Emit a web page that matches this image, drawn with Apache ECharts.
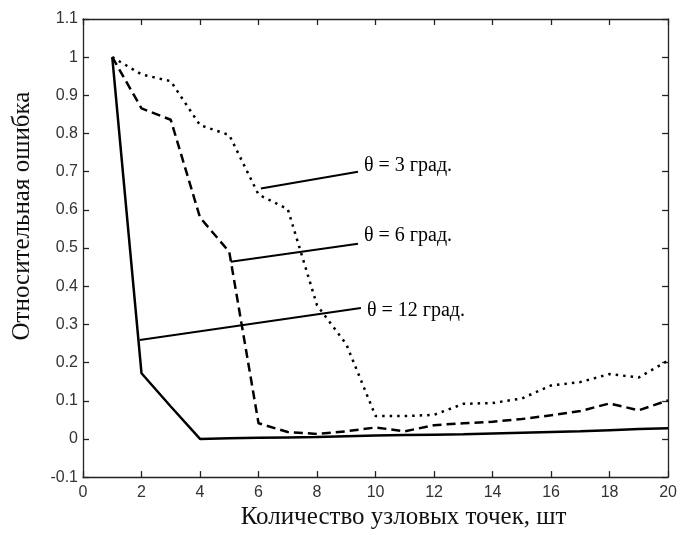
<!DOCTYPE html>
<html>
<head>
<meta charset="utf-8">
<script src="https://cdn.jsdelivr.net/npm/echarts@6/dist/echarts.min.js"></script>
<style>
    html, body { margin: 0; padding: 0; background: #fff; }
    #chart { width: 680px; height: 535px; }
</style>
</head>
<body>
<div id="chart"></div>
<script>

// number of nodes
const nodes = [1, 2, 3, 4, 5, 6, 7, 8, 9, 10, 11, 12, 13, 14, 15, 16, 17, 18, 19, 20];

// relative error for each angle
const err3 = [1.0, 0.955, 0.937, 0.822, 0.796, 0.64, 0.602, 0.35, 0.248, 0.06,
    0.06, 0.063, 0.092, 0.094, 0.106, 0.14, 0.149, 0.17, 0.161, 0.205];
const err6 = [1.0, 0.866, 0.836, 0.58, 0.49, 0.041, 0.018, 0.013, 0.02, 0.03,
    0.02, 0.036, 0.041, 0.045, 0.052, 0.062, 0.073, 0.093, 0.075, 0.101];
const err12 = [1.0, 0.172, 0.085, 0.0, 0.002, 0.003, 0.004, 0.005, 0.007, 0.009,
    0.01, 0.011, 0.012, 0.014, 0.016, 0.018, 0.02, 0.023, 0.026, 0.028];

// annotation pointers: [start, end] in data units
const pointer3 = [[6.08, 0.656], [9.4, 0.70]];
const pointer6 = [[5.05, 0.464], [9.4, 0.511]];
const pointer12 = [[1.94, 0.259], [9.5, 0.343]];

const labels = ['θ = 3 град.', 'θ = 6 град.', 'θ = 12 град.'];

const xTitle = 'Количество узловых точек, шт';
const yTitle = 'Относительная ошибка';

const chart = echarts.init(document.getElementById('chart'));

const tickFont = {
    fontFamily: 'Liberation Sans, Arial, sans-serif',
    fontSize: 16,
    color: '#333'
};

const frameAxis = (pos, isX) => ({
    type: 'value',
    position: pos,
    min: isX ? 0 : -0.1,
    max: isX ? 20 : 1.1,
    interval: isX ? 2 : 0.1,
    axisLine: { show: true, onZero: false, lineStyle: { color: '#222', width: 1.3 } },
    axisTick: { show: true, inside: true, length: 6, lineStyle: { color: '#222', width: 1.3 } },
    axisLabel: { show: false },
    splitLine: { show: false }
});

const zip = (ys) => nodes.map((x, i) => [x, ys[i]]);

const curve = (name, ys, type) => ({
    name: name,
    type: 'line',
    data: zip(ys),
    showSymbol: false,
    silent: true,
    lineStyle: { color: '#000', width: 2.5, type: type },
    z: 3
});

const pointer = (name, pts, offset) => ({
    name: name,
    type: 'line',
    data: pts,
    showSymbol: false,
    silent: true,
    lineStyle: { color: '#000', width: 2 },
    endLabel: {
        show: true,
        formatter: '{a}',
        distance: 6,
        offset: offset,
        fontFamily: 'Liberation Serif, Times New Roman, serif',
        fontSize: 20,
        color: '#000'
    },
    z: 4
});

const option = {
    animation: false,
    backgroundColor: '#fff',
    grid: {
        left: 83,
        right: 7,
        top: 19,
        bottom: 52
    },
    xAxis: [
        Object.assign(frameAxis('bottom', true), {
            axisLabel: Object.assign({ show: true, margin: 7 }, tickFont),
            name: xTitle,
            nameLocation: 'middle',
            nameGap: 26,
            nameTextStyle: {
                fontFamily: 'Liberation Serif, Times New Roman, serif',
                fontSize: 25,
                color: '#111',
                padding: [0, 0, 0, 56]
            }
        }),
        frameAxis('top', true)
    ],
    yAxis: [
        Object.assign(frameAxis('left', false), {
            axisLabel: Object.assign({
                show: true,
                margin: 5,
                formatter: (v) => String(parseFloat(v.toFixed(1)))
            }, tickFont),
            name: yTitle,
            nameLocation: 'middle',
            nameGap: 48,
            nameRotate: 90,
            nameTextStyle: {
                fontFamily: 'Liberation Serif, Times New Roman, serif',
                fontSize: 25,
                color: '#111',
                padding: [0, 0, 0, 64]
            }
        }),
        frameAxis('right', false)
    ],
    series: [
        curve('err3', err3, [2.5, 5]),
        curve('err6', err6, [9, 5]),
        curve('err12', err12, 'solid'),
        pointer(labels[0], pointer3, [0, -6]),
        pointer(labels[1], pointer6, [0, -8]),
        pointer(labels[2], pointer12, [0, 3])
    ]
};

option && chart.setOption(option);

</script>
</body>
</html>
